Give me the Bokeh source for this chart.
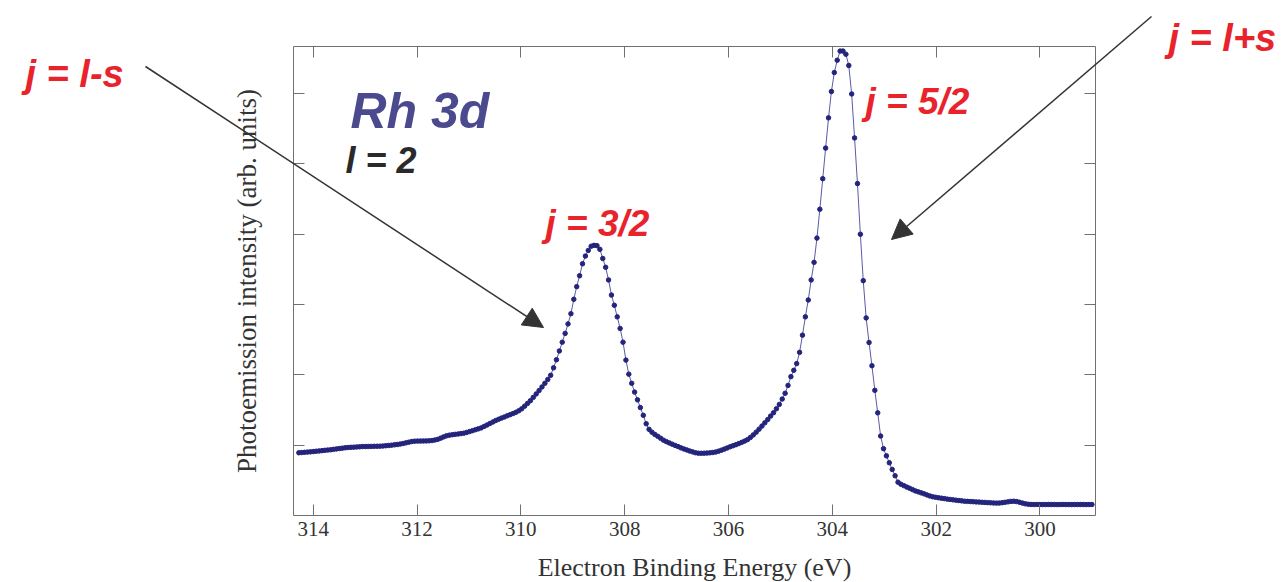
from bokeh.plotting import figure
from bokeh.models import Range1d, FixedTicker, LinearAxis, Label, Arrow, NormalHead
from bokeh.embed import file_html
from bokeh.resources import INLINE
import numpy as np

# ---- data ----
energy_first = 314.277   # eV, first sample
energy_last = 298.999    # eV, last sample
intensity = [
    0.892, 0.895, 0.899, 0.902, 0.905, 0.909, 0.914, 0.918, 0.922, 0.927,
    0.931, 0.935, 0.941, 0.947, 0.952, 0.958, 0.963, 0.967, 0.970, 0.972,
    0.975, 0.977, 0.980, 0.981, 0.982, 0.983, 0.984, 0.985, 0.986, 0.988,
    0.992, 0.996, 1.000, 1.005, 1.010, 1.016, 1.024, 1.033, 1.043, 1.052,
    1.057, 1.058, 1.059, 1.060, 1.061, 1.062, 1.066, 1.074, 1.083, 1.100,
    1.118, 1.133, 1.143, 1.149, 1.154, 1.159, 1.165, 1.171, 1.182, 1.194,
    1.207, 1.220, 1.232, 1.246, 1.267, 1.287, 1.308, 1.329, 1.350, 1.368,
    1.385, 1.401, 1.418, 1.434, 1.450, 1.468, 1.490, 1.517, 1.555, 1.594,
    1.633, 1.680, 1.729, 1.777, 1.828, 1.880, 1.934, 1.994, 2.100, 2.215,
    2.340, 2.465, 2.590, 2.725, 2.870, 3.075, 3.255, 3.410, 3.580, 3.690,
    3.770, 3.830, 3.842, 3.838, 3.785, 3.655, 3.530, 3.350, 3.135, 2.990,
    2.825, 2.660, 2.465, 2.210, 2.010, 1.880, 1.755, 1.645, 1.535, 1.425,
    1.305, 1.225, 1.185, 1.153, 1.126, 1.099, 1.071, 1.050, 1.032, 1.014,
    0.997, 0.980, 0.962, 0.947, 0.933, 0.918, 0.905, 0.893, 0.886, 0.885,
    0.886, 0.888, 0.891, 0.896, 0.903, 0.915, 0.929, 0.944, 0.961, 0.978,
    0.992, 1.007, 1.023, 1.040, 1.058, 1.079, 1.110, 1.146, 1.185, 1.228,
    1.272, 1.318, 1.365, 1.414, 1.462, 1.518, 1.580, 1.656, 1.738, 1.850,
    1.975, 2.065, 2.160, 2.320, 2.565, 2.825, 3.065, 3.350, 3.600, 3.945,
    4.355, 4.790, 5.225, 5.655, 6.030, 6.300, 6.475, 6.605, 6.605, 6.560,
    6.400, 5.995, 5.370, 4.720, 4.000, 3.340, 2.810, 2.460, 2.130, 1.780,
    1.460, 1.130, 0.950, 0.848, 0.750, 0.655, 0.565, 0.474, 0.445, 0.425,
    0.405, 0.388, 0.368, 0.350, 0.336, 0.322, 0.308, 0.293, 0.278, 0.266,
    0.259, 0.252, 0.246, 0.240, 0.233, 0.228, 0.223, 0.218, 0.213, 0.208,
    0.203, 0.201, 0.198, 0.196, 0.193, 0.191, 0.188, 0.186, 0.183, 0.181,
    0.178, 0.176, 0.177, 0.182, 0.188, 0.194, 0.200, 0.203, 0.198, 0.188,
    0.176, 0.166, 0.160, 0.157, 0.156, 0.157, 0.156, 0.155, 0.156, 0.157,
    0.156, 0.156, 0.155, 0.156, 0.157, 0.156, 0.156, 0.155, 0.156, 0.156,
    0.157, 0.156, 0.155, 0.156, 0.156,
]
# equally spaced energy samples of the measurement
energy = np.linspace(energy_first, energy_last, len(intensity))

x_ticks = [314, 312, 310, 308, 306, 304, 302, 300]
y_ticks = [1, 2, 3, 4, 5, 6]
x_label = "Electron Binding Energy (eV)"
y_label = "Photoemission intensity (arb. units)"

# ---- layout ----
W, H = 1286, 582
FL, FR, FT, FB = 293, 1095, 46, 515      # plot box edges in pixels
X_LEFT, X_RIGHT = 314.38, 298.93          # energy at the box's left / right edge
Y_BOT, Y_TOP = 0.0, 6.67                  # intensity at the box's bottom / top edge

def px_x(px):
    return X_LEFT + (px - FL) * (X_RIGHT - X_LEFT) / (FR - FL)

def px_y(py):
    return Y_BOT + (FB - py) * (Y_TOP - Y_BOT) / (FB - FT)

# the frame covers the whole canvas so that labels and arrows outside the box are not clipped;
# the box itself is drawn by four axes at fixed locations
p = figure(width=W, height=H, output_backend="svg", toolbar_location=None,
           x_range=Range1d(px_x(0), px_x(W)), y_range=Range1d(px_y(H), px_y(0)),
           min_border=0, x_axis_location=None, y_axis_location=None)
p.grid.visible = False
p.outline_line_color = None
p.background_fill_color = "white"
p.border_fill_color = "white"

AX = "#707070"
def style_axis(ax, ticks, labels=True):
    ax.axis_line_color = AX
    ax.axis_line_width = 1
    ax.major_tick_line_color = AX
    ax.major_tick_in = 11
    ax.major_tick_out = 0
    ax.minor_tick_line_color = None
    if not labels:
        ax.major_label_overrides = {t: "" for t in ticks}
        ax.major_label_standoff = 0

xb = LinearAxis(ticker=FixedTicker(ticks=x_ticks), axis_label=x_label,
                fixed_location=Y_BOT, bounds=(X_RIGHT, X_LEFT))
style_axis(xb, x_ticks)
xb.major_label_text_font = "Liberation Serif"
xb.major_label_text_font_size = "21px"
xb.major_label_text_color = "#333333"
xb.major_label_standoff = 6
xb.axis_label_text_font = "Liberation Serif"
xb.axis_label_text_font_size = "26px"
xb.axis_label_text_font_style = "normal"
xb.axis_label_text_color = "#333333"
xb.axis_label_standoff = 14
p.add_layout(xb, "below")

xt = LinearAxis(ticker=FixedTicker(ticks=x_ticks), fixed_location=Y_TOP,
                bounds=(X_RIGHT, X_LEFT))
style_axis(xt, x_ticks, labels=False)
p.add_layout(xt, "above")

yl = LinearAxis(ticker=FixedTicker(ticks=y_ticks), axis_label=y_label,
                fixed_location=X_LEFT, bounds=(Y_BOT, Y_TOP))
style_axis(yl, y_ticks, labels=False)
yl.axis_label_text_font = "Liberation Serif"
yl.axis_label_text_font_size = "27px"
yl.axis_label_text_font_style = "normal"
yl.axis_label_text_color = "#333333"
yl.axis_label_standoff = 32
p.add_layout(yl, "left")

yr = LinearAxis(ticker=FixedTicker(ticks=y_ticks), fixed_location=X_RIGHT,
                bounds=(Y_BOT, Y_TOP))
style_axis(yr, y_ticks, labels=False)
p.add_layout(yr, "right")

# ---- spectrum ----
p.line(energy, intensity, line_color="#5a5aa6", line_width=1)
p.scatter(energy, intensity, size=4.5, fill_color="#24247c", line_color="#24247c")

# ---- annotations ----
FONT = "Liberation Sans"
def lab(text, px, py, size, color):
    p.add_layout(Label(x=px_x(px), y=px_y(py), text=text, text_font=FONT,
                       text_font_style="bold italic", text_font_size=size,
                       text_color=color, text_align="left",
                       text_baseline="alphabetic"))

RED = "#e8232c"
lab("Rh 3d", 350, 110, "50px", "#4c4a8e")
lab("l = 2", 345, 160, "36px", "#2a2a2a")
lab("j = 3/2", 545, 223, "37px", RED)
lab("j = 5/2", 865, 101, "37px", RED)
lab("j = l-s", 25, 73, "38px", RED)
lab("j = l+s", 1168, 37, "38px", RED)

def arrow(x0, y0, x1, y1):
    p.add_layout(Arrow(end=NormalHead(size=20, fill_color="#333333", line_color="#333333"),
                       x_start=px_x(x0), y_start=px_y(y0),
                       x_end=px_x(x1), y_end=px_y(y1),
                       line_color="#333333", line_width=1.5))

arrow(145, 66, 543, 327)
arrow(1151, 16, 891, 239)

open("out.html", "w").write(file_html(p, INLINE))
